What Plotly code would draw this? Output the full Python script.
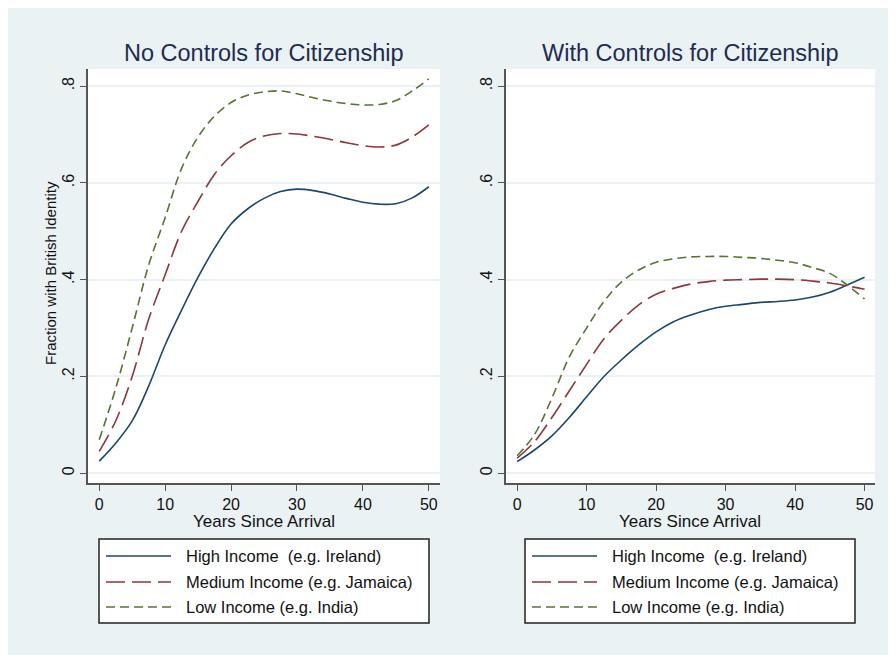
import plotly.graph_objects as go

W, H = 896, 655

# ---------------- data ----------------
years = [0, 2.5, 5, 7.5, 10, 12.5, 15, 17.5, 20, 22.5, 25, 27.5, 30,
         32.5, 35, 37.5, 40, 42.5, 45, 47.5, 50]

# Panel 1: No Controls for Citizenship
nc_high = [0.025, 0.062, 0.108, 0.180, 0.265, 0.337, 0.405, 0.465, 0.515, 0.546,
           0.568, 0.582, 0.587, 0.584, 0.577, 0.568, 0.560, 0.556, 0.557, 0.569, 0.592]
nc_medium = [0.045, 0.108, 0.200, 0.318, 0.410, 0.500, 0.562, 0.618, 0.656, 0.683,
             0.697, 0.702, 0.701, 0.696, 0.690, 0.683, 0.677, 0.674, 0.678, 0.695, 0.720]
nc_low = [0.069, 0.175, 0.300, 0.430, 0.528, 0.630, 0.695, 0.738, 0.766, 0.781,
          0.788, 0.790, 0.784, 0.776, 0.769, 0.764, 0.761, 0.762, 0.770, 0.790, 0.815]

# Panel 2: With Controls for Citizenship
wc_high = [0.024, 0.048, 0.077, 0.115, 0.158, 0.200, 0.234, 0.265, 0.292, 0.313,
           0.327, 0.338, 0.345, 0.349, 0.353, 0.355, 0.358, 0.364, 0.374, 0.389, 0.405]
wc_medium = [0.031, 0.065, 0.115, 0.170, 0.225, 0.278, 0.316, 0.348, 0.370, 0.382,
             0.391, 0.396, 0.399, 0.400, 0.401, 0.401, 0.400, 0.397, 0.393, 0.387, 0.380]
wc_low = [0.036, 0.080, 0.155, 0.240, 0.300, 0.355, 0.395, 0.420, 0.436, 0.443,
          0.447, 0.448, 0.448, 0.446, 0.444, 0.440, 0.435, 0.425, 0.413, 0.389, 0.360]

series_names = ["High Income  (e.g. Ireland)",
                "Medium Income (e.g. Jamaica)",
                "Low Income (e.g. India)"]
x_ticks = [0, 10, 20, 30, 40, 50]
x_ticklabels = ["0", "10", "20", "30", "40", "50"]
y_ticks = [0, 0.2, 0.4, 0.6, 0.8]
y_ticklabels = ["0", ".2", ".4", ".6", ".8"]
panel_titles = ["No Controls for Citizenship", "With Controls for Citizenship"]
x_title = "Years Since Arrival"
y_title = "Fraction with British Identity"

# ---------------- style ----------------
colors = ["#1a476f", "#90353b", "#55752f"]
dashes = ["solid", "19px,7px", "9px,5px"]
BG = "#EAF2F3"
AXIS = "#555555"
TITLE_C = "#1e2c50"
FONT = "Liberation Sans, Arial, sans-serif"

OFF = 8  # page body margin offset in the screenshot


def px(x):
    return (x - OFF) / W


def py(y):
    return 1 - (y - OFF) / H


fig = go.Figure()

panels = [
    ("x", "y", [nc_high, nc_medium, nc_low]),
    ("x2", "y2", [wc_high, wc_medium, wc_low]),
]
for xa, ya, data in panels:
    for i, vals in enumerate(data):
        fig.add_trace(go.Scatter(
            x=years, y=vals, xaxis=xa, yaxis=ya, mode="lines",
            line=dict(color=colors[i], width=1.6, dash=dashes[i], shape="spline", smoothing=1.0),
            name=series_names[i], showlegend=False, hoverinfo="skip"))

# pixel geometry of the panels (reference pixel coordinates)
left_dom = [px(88), px(440)]
right_dom = [px(506), px(875)]
y_dom = [py(483), py(69)]

axis_common = dict(
    showline=True, linecolor=AXIS, linewidth=1.5,
    ticks="outside", ticklen=6, tickwidth=1.2, tickcolor=AXIS,
    tickfont=dict(family=FONT, size=16, color="#111111"),
    zeroline=False,
)

layout_axes = {}
for key, dom, rng in [("xaxis", left_dom, [-1.7, 51.7]), ("xaxis2", right_dom, [-1.6, 51.5])]:
    layout_axes[key] = dict(axis_common, domain=dom, range=rng, tickvals=x_ticks,
                            ticktext=x_ticklabels, showgrid=False,
                            anchor="y" if key == "xaxis" else "y2")
for key, anchor in [("yaxis", "x"), ("yaxis2", "x2")]:
    layout_axes[key] = dict(axis_common, domain=y_dom, range=[-0.0202, 0.8353],
                            tickvals=y_ticks, ticktext=y_ticklabels, tickangle=-90,
                            showgrid=True, gridcolor=BG, gridwidth=1.5,
                            anchor=anchor, ticklabelstandoff=0)

fig.update_layout(
    width=W, height=H,
    margin=dict(l=0, r=0, t=0, b=0),
    paper_bgcolor=BG,
    plot_bgcolor="white",
    font=dict(family=FONT),
    **layout_axes,
)

shapes = []
annotations = []

# panel titles
for t, cx in zip(panel_titles, [264, 690]):
    annotations.append(dict(text=t, xref="paper", yref="paper", x=px(cx), y=py(53),
                            xanchor="center", yanchor="middle", showarrow=False,
                            font=dict(family=FONT, size=23.5, color=TITLE_C)))

# x axis titles
for cx in [264, 690]:
    annotations.append(dict(text=x_title, xref="paper", yref="paper", x=px(cx), y=py(521),
                            xanchor="center", yanchor="middle", showarrow=False,
                            font=dict(family=FONT, size=17, color="#111111")))

# y axis title (left panel only)
annotations.append(dict(text=y_title, xref="paper", yref="paper", x=px(50), y=py(273),
                        xanchor="center", yanchor="middle", showarrow=False, textangle=-90,
                        font=dict(family=FONT, size=15, color="#111111")))

# legend boxes
row_y = [556, 582, 607]
for bx0, bx1, lx0, lx1, tx in [(99, 429, 106, 171, 184), (525, 855, 532, 597, 610)]:
    shapes.append(dict(type="rect", xref="paper", yref="paper",
                       x0=px(bx0), x1=px(bx1), y0=py(623), y1=py(539),
                       fillcolor="white", line=dict(color="#222222", width=1.5)))
    for i in range(3):
        shapes.append(dict(type="line", xref="paper", yref="paper",
                           x0=px(lx0), x1=px(lx1), y0=py(row_y[i]), y1=py(row_y[i]),
                           line=dict(color=colors[i], width=1.6, dash=dashes[i])))
        annotations.append(dict(text=series_names[i].replace("  ", "&nbsp; "),
                                xref="paper", yref="paper",
                                x=px(tx), y=py(row_y[i]), xanchor="left", yanchor="middle",
                                showarrow=False,
                                font=dict(family=FONT, size=16.5, color="#111111")))

fig.update_layout(shapes=shapes, annotations=annotations)

fig.write_html("out.html")
